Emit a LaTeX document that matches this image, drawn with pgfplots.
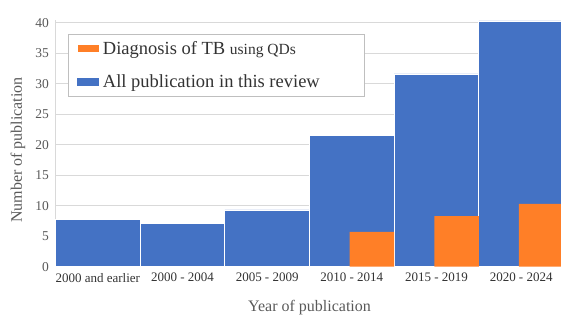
\documentclass[border=0pt]{standalone}
\usepackage{fontspec}
\setmainfont{Liberation Serif}
\usepackage{pgfplots}
\pgfplotsset{compat=1.18}
\definecolor{barblue}{HTML}{4472C4}
\definecolor{barorange}{HTML}{FF7F27}
\definecolor{txtgray}{HTML}{595959}
\definecolor{gridgray}{HTML}{D9D9D9}
\definecolor{legendgray}{HTML}{BFBFBF}
\begin{document}
\begin{tikzpicture}
\useasboundingbox (0,0) rectangle (561pt,315pt);
\begin{axis}[
  at={(55.5pt,48.3pt)}, anchor=south west,
  scale only axis, width=508pt, height=247pt,
  xmin=-0.5, xmax=5.5, ymin=0, ymax=40.5,
  axis x line*=bottom, axis y line*=left,
  x axis line style={draw=legendgray, -},
  y axis line style={draw=gridgray, -},
  major tick length=0pt,
  ytick={0,5,...,40},
  xtick={0,1,2,3,4,5},
  xticklabels={2000 and earlier, 2000 - 2004, 2005 - 2009, 2010 - 2014, 2015 - 2019, 2020 - 2024},
  ymajorgrids, grid style={draw=gridgray, line width=0.6pt},
  /pgf/number format/assume math mode=true,
  yticklabel style={font=\fontsize{13.5}{15}\selectfont, text=txtgray, xshift=-3pt},
  xticklabel style={font=\fontsize{13}{15}\selectfont, text=black!80, yshift=-3pt},
  xlabel={Year of publication},
  ylabel={Number of publication},
  x label style={font=\fontsize{16}{18}\selectfont, text=txtgray, at={(axis description cs:0.5,-0.165)}, anchor=center},
  y label style={font=\fontsize{16}{18}\selectfont, text=txtgray, at={(axis description cs:-0.0738,0.472)}, anchor=center},
  clip=false,
  reverse legend,
  legend cell align=left,
  legend style={at={(axis description cs:0.0246,0.942)}, anchor=north west,
    draw=legendgray, fill=white, font=\fontsize{18.5}{21}\selectfont, text=black!80,
    row sep=14pt, inner xsep=9pt, inner ysep=5.5pt},
]
\addplot[ybar, bar width=1, bar shift=0, fill=barblue, draw=white, line width=0.8pt,
  legend image code/.code={\fill[barblue] (0pt,-3.5pt) rectangle (21pt,3.5pt);}]
  coordinates {(0,7.8) (1,7.05) (2,9.3) (3,21.5) (4,31.6) (5,40.3)};
\addlegendentry{\hspace*{2pt}All publication in this review\rule{33pt}{0pt}}
\addplot[ybar, bar width=0.527, bar shift=0, fill=barorange, draw=none,
  legend image code/.code={\fill[barorange] (0pt,-3.5pt) rectangle (21pt,3.5pt);}]
  coordinates {(3.237,5.7) (4.237,8.3) (5.237,10.3)};
\addlegendentry{\hspace*{2pt}Diagnosis of TB {\fontsize{15.5}{17}\selectfont using QDs}}
\end{axis}
\end{tikzpicture}
\end{document}
